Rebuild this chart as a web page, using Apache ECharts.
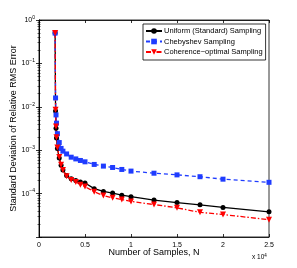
<!DOCTYPE html>
<html><head><meta charset="utf-8">
<script src="https://cdn.jsdelivr.net/npm/echarts@6/dist/echarts.min.js"></script>
<style>html,body{margin:0;padding:0;background:#fff}#c{width:297px;height:268px}</style>
</head><body><div id="c"></div>
<script>
const samples = [1750, 1800, 1850, 1900, 2000, 2200, 2400, 2600, 3000, 3500, 4000, 4500, 5000, 6000, 7000, 8000, 9000, 10000, 12500, 15000, 17500, 20000, 25000];
const uniform = [0.5, 8e-3, 3.2e-3, 1.9e-3, 1.1e-3, 6.6e-4, 4.5e-4, 3.5e-4, 2.6e-4, 2.2e-4, 2.0e-4, 1.85e-4, 1.75e-4, 1.3e-4, 1.12e-4, 1.03e-4, 9.2e-5, 8.5e-5, 7.1e-5, 6.2e-5, 5.5e-5, 4.8e-5, 3.8e-5];
const chebyshev = [0.5, 0.016, 6.5e-3, 4.2e-3, 2.4e-3, 1.5e-3, 1.1e-3, 9.5e-4, 8.2e-4, 6.9e-4, 6.3e-4, 5.8e-4, 5.4e-4, 4.7e-4, 4.3e-4, 4.0e-4, 3.6e-4, 3.3e-4, 2.95e-4, 2.7e-4, 2.45e-4, 2.15e-4, 1.82e-4];
const coherence = [0.5, 8.5e-3, 3.5e-3, 2.0e-3, 1.15e-3, 7e-4, 4.6e-4, 3.5e-4, 2.5e-4, 2.05e-4, 1.85e-4, 1.6e-4, 1.45e-4, 1.1e-4, 9.0e-5, 8.0e-5, 7.3e-5, 6.6e-5, 5.6e-5, 4.7e-5, 3.7e-5, 3.3e-5, 2.5e-5];
const seriesNames = ['Uniform (Standard) Sampling', 'Chebyshev Sampling', 'Coherence\u2212optimal Sampling'];
const xTickLabels = ['0', '0.5', '1', '1.5', '2', '2.5'];
const yTickExps = ['0', '\u22121', '\u22122', '\u22123', '\u22124'];

const FONT = 'Liberation Sans';
const pair = (ys) => samples.map((n, i) => [n, ys[i]]);
const chart = echarts.init(document.getElementById('c'), null, {renderer: 'canvas'});
const tickStyle = {show: true, inside: true, length: 3, lineStyle: {color: '#000', width: 0.8}};
chart.setOption({
  animation: false,
  textStyle: {fontFamily: FONT},
  grid: {left: 39, right: 28, top: 20, bottom: 31, show: true, borderColor: '#000', borderWidth: 0.8,
    containLabel: false, outerBoundsMode: 'none'},
  legend: {
    orient: 'vertical', left: 143, top: 24, width: 123,
    backgroundColor: '#fff', borderColor: '#000', borderWidth: 0.8,
    padding: [3, 3, 4, 2], itemGap: 2.5, itemWidth: 16, itemHeight: 7,
    textStyle: {fontSize: 7.5, fontFamily: FONT, color: '#000', padding: [0, 0, 0, -3]},
    data: seriesNames
  },
  xAxis: [{
    type: 'value', min: 0, max: 25000, interval: 5000,
    axisLine: {show: true, lineStyle: {color: '#000', width: 0.8}},
    axisTick: tickStyle, splitLine: {show: false},
    axisLabel: {fontSize: 7, color: '#000', margin: 5, fontFamily: FONT,
      formatter: (v) => xTickLabels[Math.round(v / 5000)]},
    name: 'Number of Samples, N', nameLocation: 'middle', nameGap: 11, nameMoveOverlap: false,
    nameTextStyle: {fontSize: 9, color: '#000', fontFamily: FONT, verticalAlign: 'top'}
  }, {
    type: 'value', min: 0, max: 25000, interval: 5000, position: 'top',
    axisLine: {show: true, lineStyle: {color: '#000', width: 0.8}},
    axisTick: tickStyle, axisLabel: {show: false}, splitLine: {show: false}
  }],
  yAxis: [{
    type: 'log', logBase: 10, min: 1e-5, max: 1,
    axisLine: {show: true, lineStyle: {color: '#000', width: 0.8}},
    axisTick: tickStyle, splitLine: {show: false},
    minorTick: {show: true, splitNumber: 9, length: 1.5, lineStyle: {color: '#000', width: 0.6}},
    axisLabel: {
      showMinLabel: false, margin: 4, color: '#000', fontFamily: FONT,
      formatter: (v) => {
        const e = Math.round(-Math.log10(v));
        if (e < 0 || e > 4) return '';
        return '{b|10}{s|' + yTickExps[e] + '}';
      },
      rich: {
        b: {fontSize: 7, fontFamily: FONT, color: '#000'},
        s: {fontSize: 5, fontFamily: FONT, color: '#000', verticalAlign: 'top', padding: [0, 0, 5, 0]}
      }
    },
    name: 'Standard Deviation of Relative RMS Error', nameLocation: 'middle', nameGap: 21, nameRotate: 90,
    nameMoveOverlap: false,
    nameTextStyle: {fontSize: 9, color: '#000', fontFamily: FONT}
  }, {
    type: 'log', logBase: 10, min: 1e-5, max: 1, position: 'right',
    axisLine: {show: true, lineStyle: {color: '#000', width: 0.8}},
    axisTick: tickStyle, axisLabel: {show: false}, splitLine: {show: false},
    minorTick: {show: true, splitNumber: 9, length: 1.5, lineStyle: {color: '#000', width: 0.6}}
  }],
  graphic: [{
    type: 'text', left: 252, top: 253,
    style: {text: '{b|x 10}{s|4}', rich: {
      b: {fontSize: 6.5, fontFamily: FONT, fill: '#000'},
      s: {fontSize: 4.5, fontFamily: FONT, fill: '#000', verticalAlign: 'top', padding: [0, 0, 4, 0]}
    }}
  }],
  series: [{
    name: seriesNames[0], type: 'line', data: pair(uniform),
    symbol: 'circle', symbolSize: 5,
    itemStyle: {color: '#000'}, lineStyle: {color: '#000', width: 1.3, type: 'solid'}
  }, {
    name: seriesNames[1], type: 'line', data: pair(chebyshev),
    symbol: 'rect', symbolSize: 5,
    itemStyle: {color: '#1f3cff'}, lineStyle: {color: '#1f3cff', width: 1.3, type: [4, 3]}
  }, {
    name: seriesNames[2], type: 'line', data: pair(coherence),
    symbol: 'triangle', symbolSize: 6, symbolRotate: 180,
    itemStyle: {color: '#ff0000'}, lineStyle: {color: '#ff0000', width: 1.3, type: [5, 2, 1.5, 2]}
  }]
});
</script></body></html>
